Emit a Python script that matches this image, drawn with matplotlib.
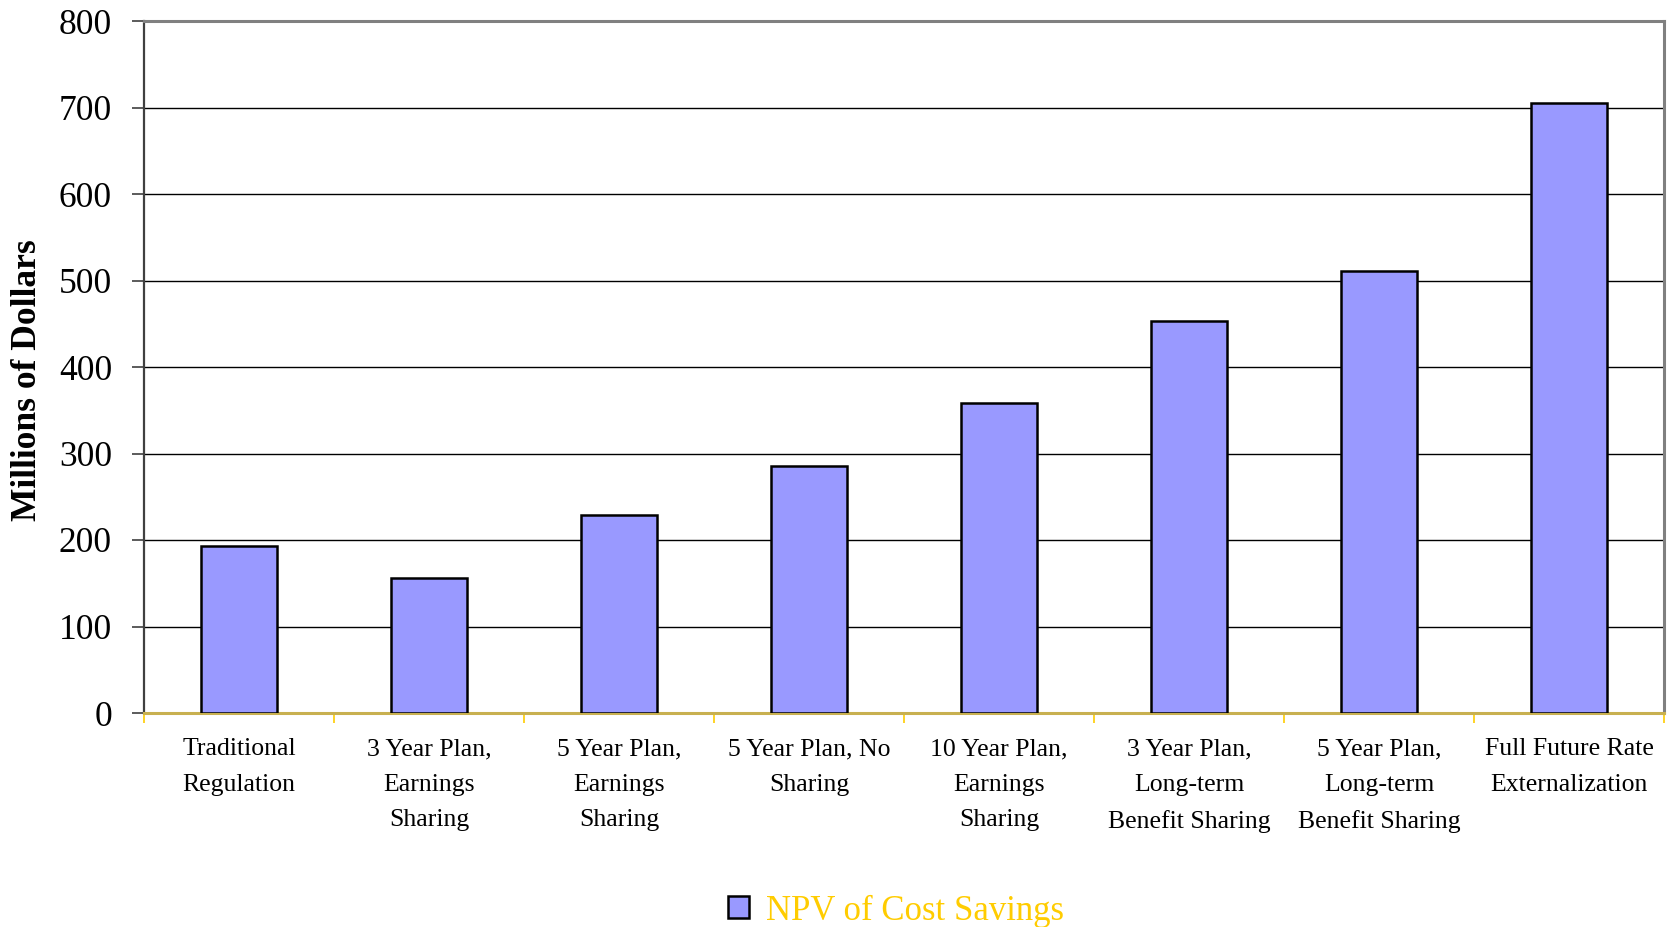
import matplotlib
matplotlib.use("Agg")
import matplotlib.pyplot as plt
from matplotlib.ticker import FixedLocator

categories = [
    "Traditional\nRegulation",
    "3 Year Plan,\nEarnings\nSharing",
    "5 Year Plan,\nEarnings\nSharing",
    "5 Year Plan, No\nSharing",
    "10 Year Plan,\nEarnings\nSharing",
    "3 Year Plan,\nLong-term\nBenefit Sharing",
    "5 Year Plan,\nLong-term\nBenefit Sharing",
    "Full Future Rate\nExternalization",
]
npv_values = [193, 156, 229, 285, 358, 453, 511, 705]
series_name = "NPV of Cost Savings"
y_ticks = [0, 100, 200, 300, 400, 500, 600, 700, 800]

plt.rcParams['font.family'] = ['Liberation Serif', 'DejaVu Serif']

fig = plt.figure(figsize=(16.77, 9.27), dpi=100)
ax = fig.add_axes([144/1677, 1-713/927, (1664-144)/1677, (713-21)/927])

x = list(range(len(categories)))
bars = ax.bar(x, npv_values, width=0.40, color='#9999FF', edgecolor='black',
              linewidth=1.8, zorder=3, label=series_name)

ax.set_xlim(-0.5, len(categories) - 0.5)
ax.set_ylim(0, 800)
ax.set_yticks(y_ticks)
ax.set_yticklabels([str(v) for v in y_ticks], fontsize=25.5)
ax.yaxis.grid(True, color='black', linewidth=1.0, zorder=0)
ax.set_axisbelow(True)

# x: category labels at centers, ticks at boundaries
ax.set_xticks(x)
ax.set_xticklabels(categories, fontsize=18.5, linespacing=1.8, va='top')
ax.tick_params(axis='x', which='major', length=0, pad=18)
ax.xaxis.set_minor_locator(FixedLocator([i - 0.5 for i in range(len(categories) + 1)]))
ax.tick_params(axis='x', which='minor', length=7, color='#FFCC00', width=1.2)
ax.tick_params(axis='y', length=9, width=1.2, color='#404040', pad=14, direction='out')

for side in ['top', 'right']:
    ax.spines[side].set_color('#808080')
    ax.spines[side].set_linewidth(2.2)
ax.spines['left'].set_color('#404040')
ax.spines['left'].set_linewidth(1.6)
ax.spines['bottom'].set_color('#C8B050')
ax.spines['bottom'].set_linewidth(2.2)

fig.text(27/1677, 1-380/927, "Millions of Dollars", rotation=90, fontsize=25.5,
         fontweight='bold', ha='center', va='center')

leg = fig.legend(handles=[bars], labels=[series_name], loc='center',
                 bbox_to_anchor=(896/1677, 1-911/927), frameon=False,
                 fontsize=25, labelcolor='#FFCC00', handlelength=0.6,
                 handleheight=0.6, handletextpad=0.5)

fig.savefig("out.png", dpi=100, facecolor='white')
